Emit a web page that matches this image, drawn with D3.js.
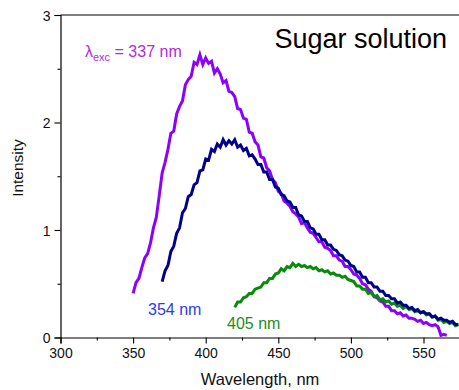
<!DOCTYPE html>
<html>
<head>
<meta charset="utf-8">
<script src="https://cdn.jsdelivr.net/npm/d3@7"></script>
<style>
  body { margin: 0; background: #fff; overflow: hidden; }
  svg { display: block; font-family: "Liberation Sans", Arial, sans-serif; }
</style>
</head>
<body>
<svg width="459" height="390"></svg>
<script>
// wavelength grids (nm), 2 nm steps
var wlPurple = d3.range(350, 567, 2);
var wlBlue = d3.range(370, 575, 2);
var wlGreen = d3.range(420, 575, 2);

// intensities
var exc337 = [0.41,0.51,0.55,0.65,0.74,0.78,0.88,1.02,1.12,1.32,
  1.53,1.63,1.75,1.90,1.92,2.08,2.15,2.20,2.35,2.40,
  2.43,2.56,2.54,2.63,2.54,2.60,2.55,2.57,2.46,2.50,
  2.45,2.37,2.39,2.29,2.28,2.24,2.13,2.12,2.04,2.03,
  1.91,1.90,1.82,1.79,1.68,1.67,1.58,1.55,1.47,1.44,
  1.36,1.34,1.27,1.25,1.22,1.17,1.15,1.12,1.06,1.07,
  1.02,0.98,0.97,0.93,0.89,0.89,0.84,0.83,0.81,0.76,
  0.76,0.72,0.71,0.66,0.66,0.63,0.59,0.58,0.55,0.50,
  0.49,0.45,0.43,0.38,0.37,0.34,0.33,0.29,0.29,0.25,
  0.25,0.22,0.23,0.20,0.21,0.18,0.18,0.17,0.15,0.16,
  0.13,0.14,0.12,0.11,0.12,0.10,0.02,0.03,0.02];

var exc354 = [0.52,0.62,0.67,0.80,0.85,0.97,1.02,1.16,1.20,1.31,
  1.33,1.42,1.44,1.55,1.56,1.66,1.65,1.75,1.73,1.80,
  1.77,1.84,1.79,1.83,1.80,1.84,1.77,1.79,1.74,1.76,
  1.69,1.70,1.66,1.61,1.61,1.54,1.54,1.47,1.47,1.40,
  1.39,1.33,1.32,1.27,1.26,1.21,1.21,1.14,1.13,1.08,
  1.08,1.02,1.01,0.96,0.96,0.91,0.91,0.86,0.86,0.82,
  0.81,0.77,0.76,0.72,0.71,0.67,0.66,0.61,0.61,0.56,
  0.56,0.51,0.51,0.47,0.47,0.43,0.43,0.39,0.39,0.36,
  0.36,0.32,0.33,0.30,0.30,0.27,0.28,0.25,0.26,0.23,
  0.24,0.22,0.22,0.19,0.20,0.17,0.18,0.16,0.16,0.14,
  0.15,0.12,0.12];

var exc405 = [0.28,0.33,0.33,0.37,0.38,0.41,0.41,0.45,0.46,0.47,
  0.51,0.51,0.55,0.55,0.59,0.60,0.64,0.62,0.66,0.65,
  0.69,0.66,0.68,0.66,0.67,0.65,0.66,0.64,0.65,0.62,
  0.63,0.61,0.62,0.59,0.60,0.58,0.58,0.56,0.57,0.54,
  0.53,0.52,0.48,0.48,0.45,0.45,0.41,0.42,0.38,0.39,
  0.35,0.36,0.33,0.34,0.31,0.32,0.29,0.30,0.27,0.29,
  0.26,0.27,0.24,0.25,0.23,0.24,0.21,0.22,0.19,0.20,
  0.16,0.17,0.14,0.15,0.13,0.14,0.11,0.12];

var xTicks = [300, 350, 400, 450, 500, 550];
var xMinor = [325, 375, 425, 475, 525, 575];
var yTicks = [0, 1, 2, 3];
var yMinor = [0.5, 1.5, 2.5];

var mLeft = 60.5, mTop = 15, mBottom = 337.5;

var svg = d3.select("svg");

// x: 300..600 nm, plot runs past the right edge of the window
var x = d3.scaleLinear().domain([300, 600]).range([mLeft, mLeft + 300 * 1.452]);
var y = d3.scaleLinear().domain([0, 3]).range([mBottom, mTop]);

// frame top line
svg.append("line")
    .attr("x1", mLeft).attr("x2", 459)
    .attr("y1", mTop).attr("y2", mTop)
    .attr("stroke", "#000").attr("stroke-width", 1.2);

// bottom axis
var xAxis = svg.append("g")
    .attr("transform", "translate(0," + mBottom + ")")
    .call(d3.axisBottom(x).tickValues(xTicks).tickSize(6).tickPadding(5).tickFormat(d3.format("d")));
svg.append("g")
    .attr("transform", "translate(0," + mBottom + ")")
    .call(d3.axisBottom(x).tickValues(xMinor).tickSize(3).tickFormat(""))
    .select(".domain").remove();

// left axis
var yAxis = svg.append("g")
    .attr("transform", "translate(" + mLeft + ",0)")
    .call(d3.axisLeft(y).tickValues(yTicks).tickSize(6).tickPadding(4).tickFormat(d3.format("d")));
svg.append("g")
    .attr("transform", "translate(" + mLeft + ",0)")
    .call(d3.axisLeft(y).tickValues(yMinor).tickSize(3).tickFormat(""))
    .select(".domain").remove();

svg.selectAll(".domain").attr("stroke", "#000").attr("stroke-width", 1.2);
svg.selectAll(".tick line").attr("stroke", "#000").attr("stroke-width", 1.1);
svg.selectAll(".tick text")
    .attr("font-family", "Liberation Sans, Arial, sans-serif")
    .attr("font-size", 14).attr("fill", "#111");
yAxis.selectAll(".tick text").attr("dy", "0.36em");

// spectra
var line = d3.line()
    .x(function(d) { return x(d[0]); })
    .y(function(d) { return y(d[1]); });

function pairs(wl, vals) {
    return vals.map(function(v, i) { return [wl[i], v]; });
}

var series = [
    {data: pairs(wlPurple, exc337), color: "#8c00ff"},
    {data: pairs(wlGreen, exc405), color: "#0a8a0a"},
    {data: pairs(wlBlue, exc354), color: "#00008b"}
];

svg.append("g").selectAll("path")
    .data(series)
    .enter().append("path")
    .attr("d", function(d) { return line(d.data); })
    .attr("fill", "none")
    .attr("stroke", function(d) { return d.color; })
    .attr("stroke-width", 3)
    .attr("stroke-linejoin", "miter");

// axis titles
svg.append("text")
    .attr("x", 260).attr("y", 385)
    .attr("text-anchor", "middle")
    .attr("font-size", 16.5).attr("fill", "#111")
    .text("Wavelength, nm");

svg.append("text")
    .attr("transform", "translate(23,168) rotate(-90)")
    .attr("text-anchor", "middle")
    .attr("font-size", 15.5).attr("fill", "#111")
    .text("Intensity");

// annotations
svg.append("text")
    .attr("x", 447).attr("y", 48)
    .attr("text-anchor", "end")
    .attr("font-size", 27).attr("fill", "#000")
    .text("Sugar solution");

var lab = svg.append("text")
    .attr("x", 85).attr("y", 57)
    .attr("font-size", 16).attr("fill", "#b428e0");
lab.append("tspan").text("λ");
lab.append("tspan").attr("font-size", 11).attr("dy", 4).text("exc");
lab.append("tspan").attr("dy", -4).text(" = 337 nm");

svg.append("text")
    .attr("x", 148).attr("y", 315)
    .attr("font-size", 16).attr("fill", "#2a3cf0")
    .text("354 nm");

svg.append("text")
    .attr("x", 227).attr("y", 329)
    .attr("font-size", 16).attr("fill", "#1e8c1e")
    .text("405 nm");
</script>
</body>
</html>
